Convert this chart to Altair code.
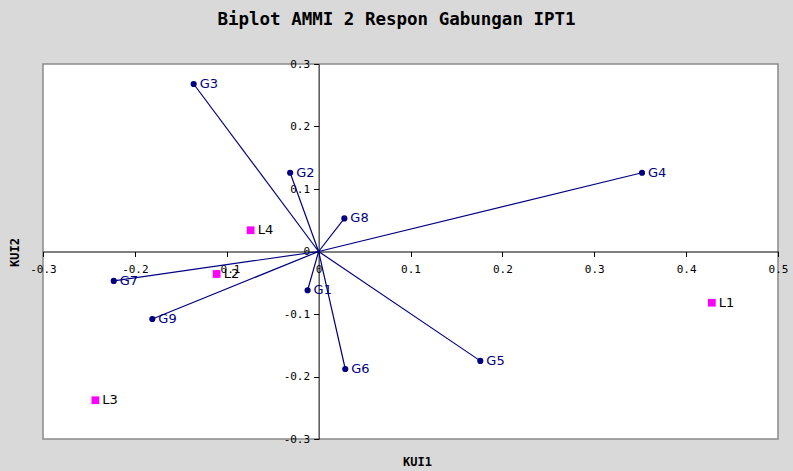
import altair as alt
import pandas as pd

# Genotype scores on the first two interaction principal components
genotypes = ["G1", "G2", "G3", "G4", "G5", "G6", "G7", "G8", "G9"]
g_kui1 = [-0.012, -0.031, -0.136, 0.352, 0.176, 0.029, -0.223, 0.028, -0.181]
g_kui2 = [-0.062, 0.126, 0.268, 0.126, -0.175, -0.188, -0.047, 0.053, -0.108]

# Location (environment) scores
locations = ["L1", "L2", "L3", "L4"]
l_kui1 = [0.428, -0.111, -0.243, -0.074]
l_kui2 = [-0.082, -0.036, -0.238, 0.034]

x_ticks = [-0.3, -0.2, -0.1, 0, 0.1, 0.2, 0.3, 0.4, 0.5]
y_ticks = [-0.3, -0.2, -0.1, 0, 0.1, 0.2, 0.3]
x_domain = [-0.3, 0.5]
y_domain = [-0.3, 0.3]

W, H = 735, 375
# axes cross at the origin: shift them inward from the frame edges
y_axis_shift = W * (0 - x_domain[0]) / (x_domain[1] - x_domain[0])
x_axis_shift = H * (y_domain[1] - 0) / (y_domain[1] - y_domain[0])

gdf = pd.DataFrame({"name": genotypes, "kui1": g_kui1, "kui2": g_kui2})
ldf = pd.DataFrame({"name": locations, "kui1": l_kui1, "kui2": l_kui2})

mono = "DejaVu Sans Mono"
navy = "#000080"

x_axis = alt.Axis(
    values=x_ticks, grid=False, offset=-(H - x_axis_shift), domainColor="black",
    tickColor="black", tickSize=5, labelPadding=7, labelFont=mono, labelFontSize=11,
    labelColor="black", labelFlush=False, labelOverlap=False, labelExpr="'' + datum.value",
    title="KUI1", titleFont=mono, titleFontSize=12, titleFontWeight="bold",
    titleColor="black", titleX=374, titleY=210,
    titleAlign="center", titleBaseline="middle",
)
y_axis = alt.Axis(
    values=y_ticks, grid=False, offset=-y_axis_shift, domainColor="black",
    tickColor="black", tickSize=5, labelPadding=4, labelFont=mono, labelFontSize=11,
    labelColor="black", labelOverlap=False, labelFlush=False, labelExpr="'' + datum.value",
    title="KUI2", titleFont=mono, titleFontSize=12, titleFontWeight="bold",
    titleColor="black", titleX=14 - 43 - y_axis_shift, titleY=188, titleAngle=270,
    titleAlign="center", titleBaseline="middle",
)

xs = alt.Scale(domain=x_domain, nice=False, zero=False)
ys = alt.Scale(domain=y_domain, nice=False, zero=False)

vectors = alt.Chart(gdf).transform_calculate(o="0").mark_rule(
    color=navy, strokeWidth=1.2
).encode(
    x=alt.X("kui1:Q", scale=xs, axis=x_axis),
    y=alt.Y("kui2:Q", scale=ys, axis=y_axis),
    x2="o:Q",
    y2="o:Q",
)

g_points = alt.Chart(gdf).mark_circle(color=navy, size=38, opacity=1).encode(
    x=alt.X("kui1:Q", scale=xs), y=alt.Y("kui2:Q", scale=ys)
)
g_labels = alt.Chart(gdf).mark_text(
    align="left", baseline="middle", dx=6, font="DejaVu Sans", fontSize=13, color=navy
).encode(x=alt.X("kui1:Q", scale=xs), y=alt.Y("kui2:Q", scale=ys), text="name:N")

l_points = alt.Chart(ldf).mark_square(color="#ff00ff", size=60, opacity=1).encode(
    x=alt.X("kui1:Q", scale=xs), y=alt.Y("kui2:Q", scale=ys)
)
l_labels = alt.Chart(ldf).mark_text(
    align="left", baseline="middle", dx=7, font="DejaVu Sans", fontSize=13, color="black"
).encode(x=alt.X("kui1:Q", scale=xs), y=alt.Y("kui2:Q", scale=ys), text="name:N")

chart = alt.layer(vectors, g_points, g_labels, l_points, l_labels).properties(
    width=W,
    height=H,
    title=alt.TitleParams(
        "Biplot AMMI 2 Respon Gabungan IPT1", font=mono, fontSize=17.5, fontWeight="bold",
        color="black", anchor="middle", dx=-14, offset=30,
    ),
    autosize=alt.AutoSizeParams(type="none"),
    padding={"left": 43, "top": 64, "right": 15, "bottom": 32},
    background="#d9d9d9",
).configure_view(
    fill="white", stroke="#8a8a8a", strokeWidth=1.5
)

chart.save("out.html", embed_options={"renderer": "svg", "actions": False})
